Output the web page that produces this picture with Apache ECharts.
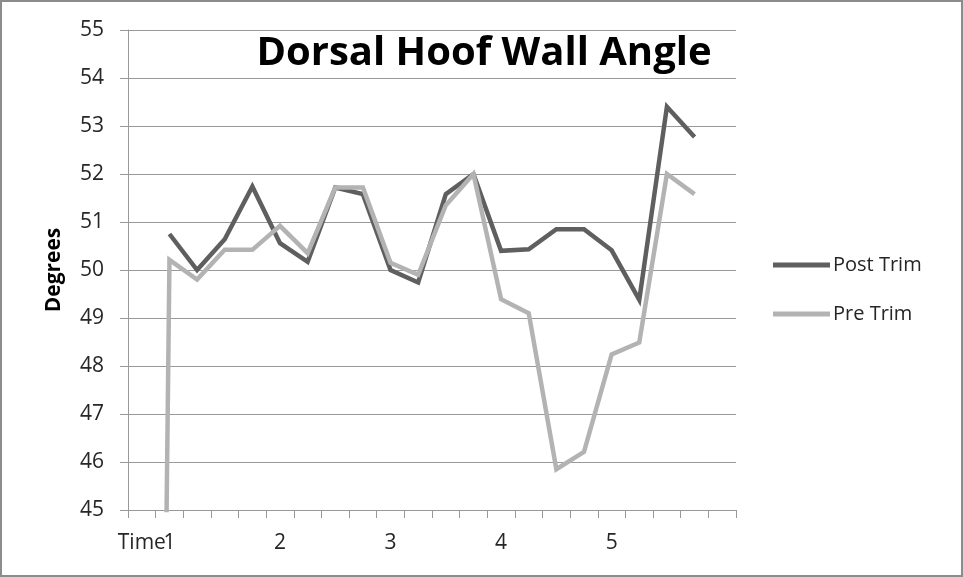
<!DOCTYPE html>
<html>
<head>
<meta charset="utf-8">
<script src="https://cdn.jsdelivr.net/npm/echarts@6/dist/echarts.min.js"></script>
<style>
html,body{margin:0;padding:0;background:#fff;}
#chart{width:963px;height:577px;}
</style>
</head>
<body>
<div id="chart"></div>
<script>
// Category slots along the x axis (22 slots) and the labels shown on them
var categories = ['Time','1','1a','1b','1c','2','2a','2b','2c','3','3a','3b','3c','4','4a','4b','4c','5','5a','5b','5c','5d'];
var tickLabels = ['Time','1','','','','2','','','','3','','','','4','','','','5','','','',''];
var postTrim = [null, 50.75, 50.0, 50.64, 51.74, 50.56, 50.17, 51.72, 51.58, 50.0, 49.74, 51.58, 52.0, 50.4, 50.43, 50.85, 50.85, 50.41, 49.38, 53.4, 52.77, null];
var preTrim  = [0, 50.21, 49.8, 50.42, 50.42, 50.92, 50.35, 51.72, 51.72, 50.15, 49.9, 51.35, 52.0, 49.39, 49.1, 45.85, 46.21, 48.24, 48.49, 52.0, 51.58, null];
var seriesNames = ['Post Trim', 'Pre Trim'];
var yTicks = [45,46,47,48,49,50,51,52,53,54,55];

var FONT = '"Open Sans", Lato, sans-serif';
var chart = echarts.init(document.getElementById('chart'));
chart.setOption({
  animation: false,
  backgroundColor: '#ffffff',
  title: {
    text: 'Dorsal Hoof Wall Angle',
    left: 479, top: 29, textAlign: 'center',
    textStyle: {fontFamily: FONT, fontWeight: 'bold', fontSize: 40, color: '#000'}
  },
  graphic: [{
    type: 'rect', silent: true, z: 100,
    shape: {x: 1, y: 1, width: 961, height: 575},
    style: {fill: 'none', stroke: '#8c8c8c', lineWidth: 2}
  }],
  legend: {
    orient: 'vertical', left: 768, top: 250,
    itemWidth: 57, itemHeight: 5, itemGap: 29,
    icon: 'rect',
    data: seriesNames,
    textStyle: {fontFamily: FONT, fontSize: 20, color: '#262626', padding: [0,0,0,-2]}
  },
  grid: {left: 128, right: 227, top: 30, bottom: 67, containLabel: false},
  xAxis: [{
    type: 'category', data: categories, boundaryGap: true,
    axisLine: {show: true, lineStyle: {color: '#999', width: 1}},
    axisTick: {show: false},
    axisLabel: {interval: 0, margin: 23, fontFamily: FONT, fontSize: 21, color: '#262626', hideOverlap: false,
      formatter: function(v, i){ return tickLabels[i]; }},
    splitLine: {show: false}
  }, {
    type: 'category', data: categories, boundaryGap: true, position: 'bottom',
    axisLine: {show: false},
    axisTick: {show: true, interval: 0, length: 8, lineStyle: {color: '#999'}},
    axisLabel: {show: false},
    splitLine: {show: false}
  }],
  yAxis: {
    type: 'value', min: 45, max: 55, interval: 1,
    name: 'Degrees', nameLocation: 'middle', nameGap: 63, nameRotate: 90,
    nameTextStyle: {fontFamily: FONT, fontWeight: 'bold', fontSize: 21, color: '#000'},
    axisLine: {show: true, lineStyle: {color: '#999', width: 1}},
    axisTick: {show: true, length: 8, lineStyle: {color: '#999'}},
    axisLabel: {margin: 24, fontFamily: FONT, fontSize: 21, color: '#262626',
      formatter: function(v){ return yTicks.indexOf(v) >= 0 ? String(v) : ''; }},
    splitLine: {show: true, lineStyle: {color: '#999', width: 1}}
  },
  series: [
    {name: seriesNames[0], type: 'line', data: postTrim, showSymbol: false, symbol: 'none',
     clip: true, connectNulls: false,
     lineStyle: {color: '#5f5f5f', width: 4.5, join: 'miter'}, itemStyle: {color: '#5f5f5f'}},
    {name: seriesNames[1], type: 'line', data: preTrim, showSymbol: false, symbol: 'none',
     clip: true, connectNulls: false,
     lineStyle: {color: '#b3b3b3', width: 4.5, join: 'miter'}, itemStyle: {color: '#b3b3b3'}}
  ]
});
</script>
</body>
</html>
